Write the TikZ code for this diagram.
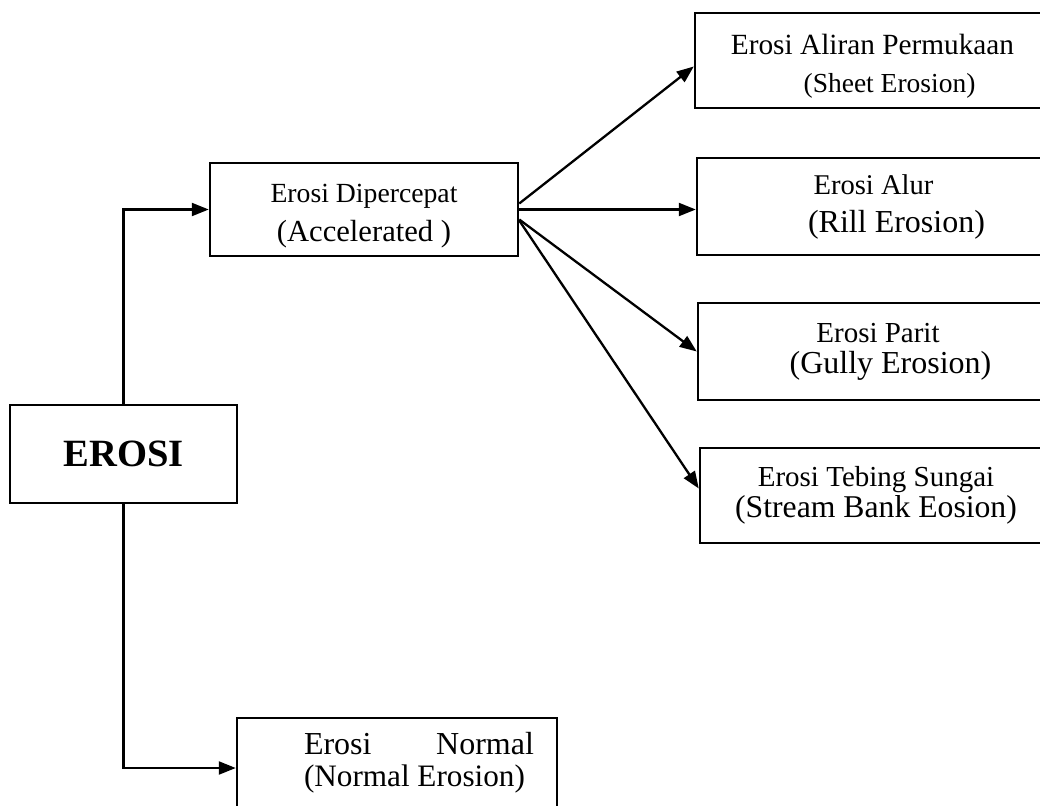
\documentclass[tikz,border=0pt]{standalone}
\usepackage{fontspec}
\setmainfont{Liberation Serif}
\usetikzlibrary{arrows.meta}
\newcommand{\myfs}[2]{\fontsize{#1}{#2}\selectfont}
\begin{document}
\begin{tikzpicture}[x=1pt,y=-1pt,
  box/.style={draw,line width=2.5pt,inner sep=0pt,align=center},
  conn/.style={line width=2.3pt,-{Triangle[length=17pt,width=13pt]}}]
\useasboundingbox (0,0) rectangle (1040,805);
\clip (0,0) rectangle (1040,805);
\fill[white] (0,0) rectangle (1040,805);

\node[box,minimum width=227pt,minimum height=98pt,font=\bfseries\myfs{38.6}{40}] (erosi) at (123.5,454)
  {EROSI};
\node[box,minimum width=308pt,minimum height=93pt,font=\myfs{29}{39}] (acc) at (364,209.5)
  {\myfs{27.7}{39}\rule{0pt}{32pt}Erosi Dipercepat\\\myfs{30.6}{39}(Accelerated )};
\node[box,minimum width=355pt,minimum height=95pt,font=\myfs{28}{38}] (sheet) at (872.5,60.5)
  {\myfs{29.3}{38}\rule{0pt}{32pt}Erosi Aliran Permukaan\\\myfs{27.5}{38}\hspace*{34pt}(Sheet Erosion)};
\node[box,minimum width=353pt,minimum height=97pt,font=\myfs{30}{38}] (rill) at (873.5,206.5)
  {\myfs{28.6}{38}Erosi Alur\\\myfs{32}{38}\hspace*{46pt}(Rill Erosion)};
\node[box,minimum width=360pt,minimum height=97pt,font=\myfs{30}{31}] (gully) at (878,351.5)
  {\myfs{29}{31}Erosi Parit\\\myfs{32}{31}\hspace*{25pt}(Gully Erosion)};
\node[box,minimum width=352pt,minimum height=95pt,font=\myfs{30}{31}] (stream) at (876,495.5)
  {\myfs{29}{31}Erosi Tebing Sungai\\\myfs{31.7}{31}(Stream Bank Eosion)};
\node[box,minimum width=320pt,minimum height=90pt,font=\myfs{31}{32}] (normal) at (397,763)
  {\myfs{32}{32}\hspace*{44pt}\makebox[230pt]{Erosi\hfill Normal}\\\myfs{31.2}{32}\hspace*{44pt}\makebox[230pt][l]{(Normal Erosion)}};

\draw[conn] (erosi.north) |- (acc.west);
\draw[conn] (erosi.south) |- ([yshift=-5pt]normal.west);
\draw[conn] ([yshift=6pt]acc.east) -- ([yshift=-6pt]sheet.west);
\draw[conn] (acc.east) -- (rill.west |- acc.east);
\draw[conn] ([yshift=-10pt]acc.east) -- (gully.west);
\draw[conn] ([yshift=-11pt]acc.east) -- ([yshift=7pt]stream.west);
\end{tikzpicture}
\end{document}
